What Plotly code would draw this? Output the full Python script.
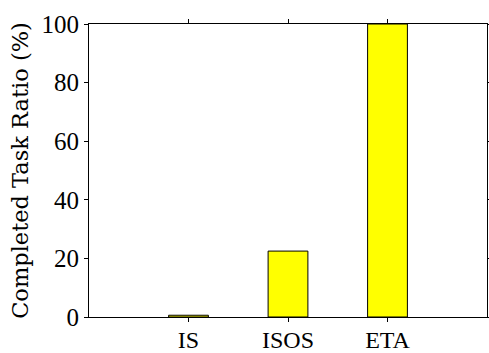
import plotly.graph_objects as go

categories = ["IS", "ISOS", "ETA"]
values = [0.6, 22.5, 100]
positions = [0, 1, 2]
y_ticks = [0, 20, 40, 60, 80, 100]

fig = go.Figure()
fig.add_trace(go.Bar(
    x=positions, y=values, width=0.4,
    marker=dict(color="#ffff00", line=dict(color="black", width=1)),
))

tick_font = dict(family="Liberation Serif, Times New Roman, serif", size=25, color="black")
xtick_font = dict(family="Liberation Serif, Times New Roman, serif", size=24, color="black")
title_font = dict(family="DejaVu Serif, serif", size=22.5, color="black")
fig.update_layout(
    width=489, height=353,
    margin=dict(l=89, r=2, t=24, b=36),
    plot_bgcolor="white", paper_bgcolor="white",
    showlegend=False, font=tick_font,
)
fig.update_xaxes(
    range=[-1, 3], tickvals=positions, ticktext=categories,
    showline=True, linecolor="black", linewidth=1, mirror="ticks",
    ticks="outside", ticklen=4, tickcolor="black", showgrid=False, zeroline=False,
    tickfont=xtick_font, automargin=False, ticklabelstandoff=-3,
)
fig.update_yaxes(
    range=[0, 100], tickvals=y_ticks,
    showline=True, linecolor="black", linewidth=1, mirror="ticks",
    ticks="outside", ticklen=4, tickcolor="black", showgrid=False, zeroline=False,
    title=dict(text="Completed Task Ratio (%)", font=title_font, standoff=6),
    tickfont=tick_font, automargin=False,
)
fig.write_html("out.html")
